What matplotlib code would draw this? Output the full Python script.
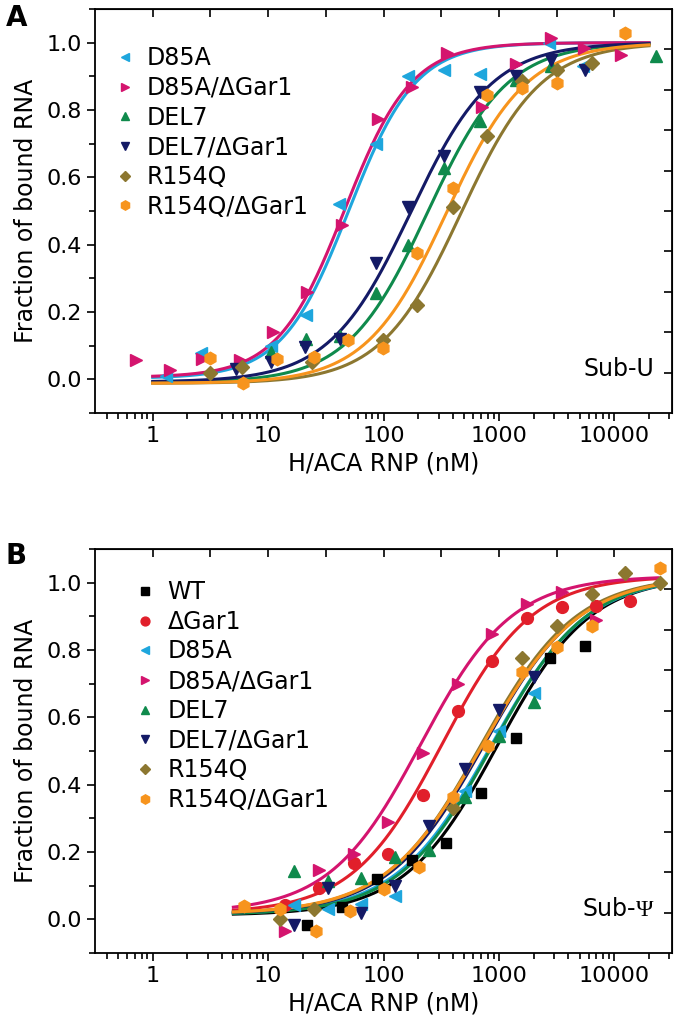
import numpy as np
import matplotlib
matplotlib.use("Agg")
import matplotlib.pyplot as plt

plt.rcParams['font.family'] = ['DejaVu Sans']
plt.rcParams['mathtext.fontset'] = 'custom'
plt.rcParams['mathtext.rm'] = 'Liberation Serif'

# Panel A (Sub-U) data: concentration (nM), fraction bound
a_d85a_x = [1.31, 2.64, 5.5, 10.5, 21.2, 41, 86, 163, 337, 685, 2700, 5400]
a_d85a_y = [0.01, 0.077, 0.04, 0.10, 0.19, 0.52, 0.70, 0.90, 0.92, 0.906, 1.0, 0.93]
a_d85ag_x = [0.71, 1.4, 2.7, 5.7, 11, 21.8, 44, 89, 178, 352, 710, 1420, 2840, 5500, 11400]
a_d85ag_y = [0.056, 0.028, 0.06, 0.057, 0.14, 0.26, 0.457, 0.773, 0.867, 0.97, 0.81, 0.936, 1.015, 0.985, 0.962]
a_del7_x = [10.5, 21.2, 42, 86, 163, 337, 685, 1420, 2800, 22800]
a_del7_y = [0.081, 0.12, 0.13, 0.255, 0.40, 0.627, 0.768, 0.888, 0.93, 0.96]
a_del7g_x = [5.3, 10.5, 21, 42, 86, 163, 337, 685, 1420, 2840, 5600]
a_del7g_y = [0.03, 0.05, 0.097, 0.12, 0.345, 0.513, 0.663, 0.854, 0.90, 0.95, 0.918]
a_r154q_x = [3.16, 6, 24, 99, 195, 397, 795, 1570, 3200, 6400]
a_r154q_y = [0.02, 0.036, 0.05, 0.116, 0.222, 0.511, 0.723, 0.886, 0.92, 0.94]
a_r154qg_x = [3.16, 6.1, 12, 25, 49, 99, 195, 397, 795, 1570, 3200, 12400]
a_r154qg_y = [0.064, -0.01, 0.06, 0.067, 0.118, 0.092, 0.375, 0.568, 0.844, 0.864, 0.88, 1.03]

# Panel B (Sub-Psi) data
b_wt_x = [21.8, 44, 88, 177, 350, 700, 1400, 2780, 5560]
b_wt_y = [-0.018, 0.038, 0.12, 0.176, 0.227, 0.375, 0.539, 0.776, 0.812]
b_gar1_x = [13.9, 27.8, 56, 110, 220, 440, 870, 1760, 3500, 6930, 13700]
b_gar1_y = [0.044, 0.094, 0.168, 0.195, 0.368, 0.62, 0.766, 0.896, 0.929, 0.931, 0.945]
b_d85a_x = [16.6, 33, 64, 127, 513, 1000, 2000]
b_d85a_y = [0.044, 0.03, 0.047, 0.069, 0.38, 0.56, 0.672]
b_d85ag_x = [13.9, 27.8, 56, 110, 220, 440, 870, 1760, 3500, 6900]
b_d85ag_y = [-0.035, 0.148, 0.195, 0.29, 0.494, 0.70, 0.848, 0.937, 0.973, 0.89]
b_del7_x = [16.6, 33, 64, 127, 250, 513, 1000, 2000]
b_del7_y = [0.145, 0.114, 0.124, 0.186, 0.207, 0.364, 0.545, 0.647]
b_del7g_x = [16.6, 33, 64, 127, 250, 513, 1000, 2000]
b_del7g_y = [-0.018, 0.094, 0.02, 0.10, 0.277, 0.447, 0.623, 0.72]
b_r154q_x = [12.7, 25, 400, 1585, 3200, 6400, 12300, 24800]
b_r154q_y = [0.0, 0.03, 0.33, 0.777, 0.871, 0.966, 1.028, 0.998]
b_r154qg_x = [6.2, 12.7, 26, 51, 100, 205, 400, 800, 1585, 3200, 6400, 24800]
b_r154qg_y = [0.04, 0.03, -0.035, 0.025, 0.09, 0.155, 0.363, 0.514, 0.736, 0.81, 0.872, 1.043]

# Hill fit parameters: (bottom, top, K, n)
a_fits = {
    'D85A': (0.003, 1.0, 50, 1.5),
    'D85A/ΔGar1': (0.006, 1.0, 46, 1.5),
    'DEL7': (-0.01, 1.0, 240, 1.25),
    'DEL7/ΔGar1': (-0.008, 1.0, 172, 1.23),
    'R154Q': (-0.012, 1.0, 470, 1.25),
    'R154Q/ΔGar1': (-0.012, 1.0, 350, 1.25),
}
b_fits = {
    'WT': (0.012, 1.02, 970, 1.08),
    'ΔGar1': (0.018, 1.02, 320, 1.12),
    'D85A': (0.014, 1.02, 860, 1.05),
    'D85A/ΔGar1': (0.02, 1.02, 210, 1.1),
    'DEL7': (0.014, 1.02, 880, 1.07),
    'DEL7/ΔGar1': (0.016, 1.02, 740, 1.05),
    'R154Q': (0.016, 1.02, 700, 1.05),
    'R154Q/ΔGar1': (0.016, 1.02, 720, 1.03),
}

styles = {
    'WT': ('#000000', 's'),
    'ΔGar1': ('#e11f2b', 'o'),
    'D85A': ('#1ea6dd', '<'),
    'D85A/ΔGar1': ('#d4146e', '>'),
    'DEL7': ('#0f8a4c', '^'),
    'DEL7/ΔGar1': ('#141a66', 'v'),
    'R154Q': ('#8c7730', 'D'),
    'R154Q/ΔGar1': ('#f7941d', 'h'),
}
msize = {'s': 7.5, 'o': 8.5, '<': 8.5, '>': 8.5, '^': 8.5, 'v': 8.5, 'D': 7, 'h': 9}


def hill(x, bottom, top, k, n):
    return bottom + (top - bottom) * x ** n / (k ** n + x ** n)


def draw_panel(ax, series, fits, xrange, tag, legend_xy):
    """
    Plot scatter points and fitted binding curves on a log x axis.
    """
    xs = np.logspace(np.log10(xrange[0]), np.log10(xrange[1]), 300)
    for name, (x, y) in series.items():
        c, m = styles[name]
        ax.plot(xs, hill(xs, *fits[name]), color=c, lw=2.2, zorder=2)
        ax.plot(x, y, linestyle='none', marker=m, color=c, ms=msize[m],
                mec=c, label=name, zorder=3)

    ax.set_xscale('log')
    ax.set_xlim(10 ** -0.5, 10 ** 4.5)
    ax.set_ylim(-0.1, 1.1)
    ax.set_xticks([1, 10, 100, 1000, 10000])
    ax.set_xticklabels(['1', '10', '100', '1000', '10000'])
    ax.set_yticks(np.arange(0, 1.01, 0.2))
    ax.set_yticklabels(['0.0', '0.2', '0.4', '0.6', '0.8', '1.0'])
    ax.set_yticks(np.arange(-0.1, 1.1, 0.1), minor=True)
    ax.tick_params(which='both', direction='out', labelsize=16, width=1.2,
                   top=False, right=False)
    ax.tick_params(which='major', length=6)
    ax.tick_params(which='minor', length=4)
    for s in ax.spines.values():
        s.set_linewidth(1.3)

    # Top and right axes: 10 equal divisions, inward ticks, no labels
    top = ax.secondary_xaxis('top')
    top.set_xticks(10 ** (np.arange(1, 10) * 0.5 - 0.5))
    top.set_xticks([], minor=True)
    top.tick_params(direction='in', length=6, width=1.2, labeltop=False)
    right = ax.secondary_yaxis('right')
    right.set_yticks(-0.1 + 0.12 * np.arange(1, 10))
    right.tick_params(direction='in', length=6, width=1.2, labelright=False)

    ax.set_xlabel('H/ACA RNP (nM)', fontsize=17, labelpad=4)
    ax.set_ylabel('Fraction of bound RNA', fontsize=17, labelpad=6)
    ax.text(0.97, 0.11, tag, transform=ax.transAxes, ha='right', va='center',
            fontsize=17)
    ax.legend(loc='upper left', bbox_to_anchor=legend_xy, frameon=False,
              fontsize=17, handletextpad=0.45, labelspacing=0.24,
              handlelength=1.0, borderaxespad=0.0, borderpad=0.0,
              markerscale=0.75)


fig = plt.figure(figsize=(6.8, 10.33), dpi=100)
W, H = 680, 1033
ax_a = fig.add_axes([95 / W, 1 - 413 / H, 577 / W, 404 / H])
ax_b = fig.add_axes([95 / W, 1 - 953 / H, 577 / W, 404 / H])

series_a = {
    'D85A': (a_d85a_x, a_d85a_y),
    'D85A/ΔGar1': (a_d85ag_x, a_d85ag_y),
    'DEL7': (a_del7_x, a_del7_y),
    'DEL7/ΔGar1': (a_del7g_x, a_del7g_y),
    'R154Q': (a_r154q_x, a_r154q_y),
    'R154Q/ΔGar1': (a_r154qg_x, a_r154qg_y),
}
series_b = {
    'WT': (b_wt_x, b_wt_y),
    'ΔGar1': (b_gar1_x, b_gar1_y),
    'D85A': (b_d85a_x, b_d85a_y),
    'D85A/ΔGar1': (b_d85ag_x, b_d85ag_y),
    'DEL7': (b_del7_x, b_del7_y),
    'DEL7/ΔGar1': (b_del7g_x, b_del7g_y),
    'R154Q': (b_r154q_x, b_r154q_y),
    'R154Q/ΔGar1': (b_r154qg_x, b_r154qg_y),
}

draw_panel(ax_a, series_a, a_fits, (1, 20000), 'Sub-U', (0.031, 0.908))
draw_panel(ax_b, series_b, b_fits, (5, 24000), r'Sub-$\mathrm{\Psi}$', (0.066, 0.923))

fig.text(6 / W, 1 - 18 / H, 'A', fontsize=20, fontweight='bold', va='center')
fig.text(6 / W, 1 - 556 / H, 'B', fontsize=20, fontweight='bold', va='center')

fig.savefig('out.png', dpi=100)
